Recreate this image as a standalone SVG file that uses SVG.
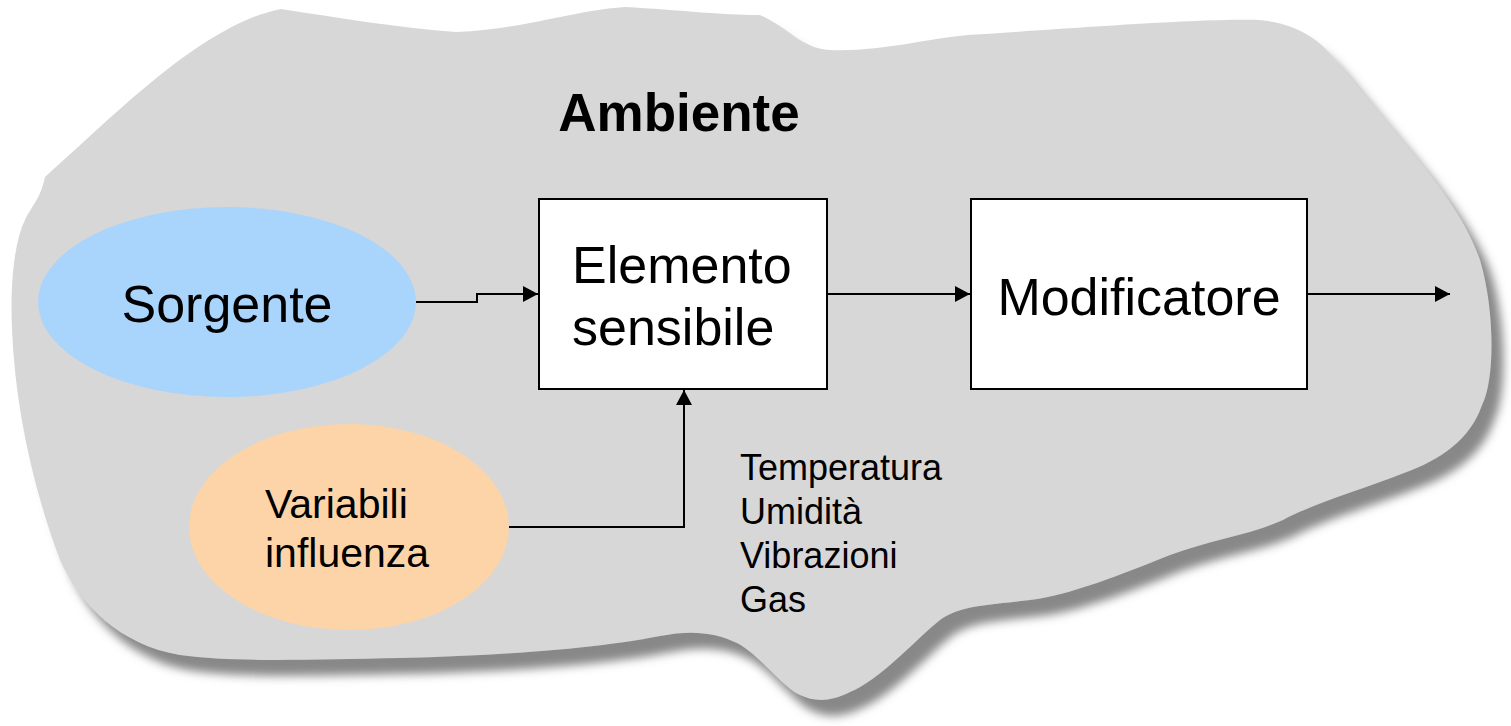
<svg xmlns="http://www.w3.org/2000/svg" width="1511" height="726" viewBox="0 0 1511 726">
<style>
.t{font-family:"Liberation Sans",Arial,sans-serif;fill:#000}
.big{font-size:52px}
.mid{font-size:41px}
.sm{font-size:36px}
.box{fill:#fff;stroke:#000;stroke-width:2}
.conn{fill:none;stroke:#000;stroke-width:2}
</style>
<defs>
<filter id="sh" x="-5%" y="-5%" width="115%" height="120%">
<feDropShadow dx="12" dy="16" stdDeviation="5" flood-color="#888" flood-opacity="1"/>
</filter>
<marker id="arr" markerUnits="userSpaceOnUse" markerWidth="16" markerHeight="16" refX="15" refY="8" orient="auto">
<path d="M0,0 L15,8 L0,16 Z" fill="#000"/>
</marker>
</defs>
<g id="ambiente">
<path filter="url(#sh)" fill="#d7d7d7" d="M 45,177 C 110,120 200,25 281,9 C 340,18 400,28 456,32 C 520,30 575,10 625,7 C 680,10 720,15 760,15 C 790,28 800,48 830,50 C 880,52 930,38 968,35 C 1050,30 1200,18 1259,20 C 1300,24 1320,40 1340,65 C 1400,140 1460,200 1480,260 C 1495,310 1495,380 1482,405 C 1470,440 1440,460 1404,473 C 1360,490 1310,505 1283,520 C 1250,535 1210,540 1170,555 C 1120,575 1070,595 1030,600 C 990,605 960,605 940,620 C 915,640 880,680 850,692 C 830,702 815,702 800,695 C 780,685 760,655 737,643 C 715,632 690,630 660,636 C 600,648 500,656 400,658 C 300,660 230,662 180,655 C 120,645 80,605 60,560 C 30,480 15,400 12,330 C 10,280 15,240 25,220 C 32,205 40,200 45,177 Z"/>
<text class="t" x="679" y="131" font-size="53" font-weight="bold" text-anchor="middle">Ambiente</text>
</g>
<g id="sorgente">
<ellipse cx="227" cy="302" rx="189" ry="95" fill="#a9d4fc"/>
<text class="t big" x="227" y="322" text-anchor="middle">Sorgente</text>
</g>
<g id="variabili">
<ellipse cx="349" cy="527" rx="160" ry="103" fill="#fdd4a8"/>
<text class="t mid" x="265" y="518">Variabili</text>
<text class="t mid" x="265" y="567">influenza</text>
</g>
<g id="elemento">
<rect class="box" x="539" y="199" width="288" height="190"/>
<text class="t big" x="572" y="283">Elemento</text>
<text class="t big" x="572" y="345">sensibile</text>
</g>
<g id="modificatore">
<rect class="box" x="971" y="199" width="336" height="190"/>
<text class="t big" x="1139" y="315" text-anchor="middle">Modificatore</text>
</g>
<g id="influenze">
<text class="t sm" x="740" y="480">Temperatura</text>
<text class="t sm" x="740" y="524">Umidità</text>
<text class="t sm" x="740" y="568">Vibrazioni</text>
<text class="t sm" x="740" y="612">Gas</text>
</g>
<g id="connectors">
<path class="conn" d="M416,302 H477 V294 H538" marker-end="url(#arr)"/>
<path class="conn" d="M827,294 H970" marker-end="url(#arr)"/>
<path class="conn" d="M1307,294 H1450" marker-end="url(#arr)"/>
<path class="conn" d="M509,527 H684 V390" marker-end="url(#arr)"/>
</g>
</svg>
